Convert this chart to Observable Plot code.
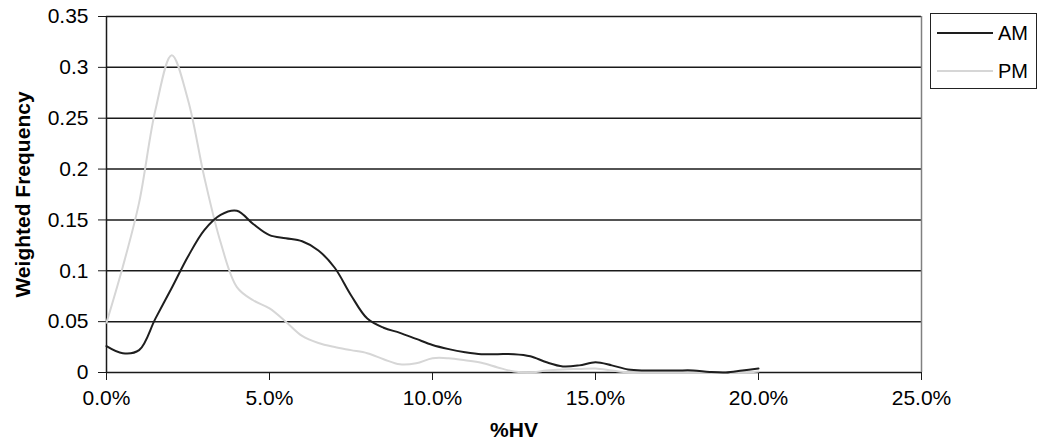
<!DOCTYPE html>
<html>
<head>
<meta charset="utf-8">
<script src="https://cdn.jsdelivr.net/npm/d3@7"></script>
<script src="https://cdn.jsdelivr.net/npm/@observablehq/plot@0.6"></script>
<style>
  html, body { margin: 0; padding: 0; background: #fff; }
  #wrap { position: relative; width: 1042px; height: 442px; font-family: "Liberation Sans", Arial, sans-serif; }
  #legend { position: absolute; left: 930px; top: 13px; width: 105px; height: 74px; border: 1px solid #222; background: #fff; }
  .lg-row { position: absolute; left: 0; width: 105px; height: 22px; }
  .lg-line { position: absolute; left: 6px; top: 10px; width: 56px; height: 2px; }
  .lg-text { position: absolute; left: 67px; top: 0; font-size: 20px; line-height: 22px; color: #000; }
</style>
</head>
<body>
<div id="wrap">
  <div id="chart"></div>
  <div id="legend"></div>
</div>
<script>
// %HV (x) positions
const hvPct = [0,0.5,1,1.5,2,2.5,3,3.5,4,4.5,5,5.5,6,6.5,7,7.5,8,8.5,9,9.5,10,10.5,11,11.5,12,12.5,13,13.5,14,14.5,15,15.5,16,16.5,17,17.5,18,18.5,19,19.5,20];
// Weighted frequency, AM series
const amFreq = [0.026,0.019,0.022,0.053,0.083,0.114,0.140,0.155,0.159,0.146,0.135,0.132,0.129,0.120,0.103,0.076,0.053,0.044,0.039,0.033,0.027,0.023,0.020,0.018,0.018,0.018,0.016,0.010,0.006,0.007,0.010,0.007,0.003,0.002,0.002,0.002,0.002,0.0005,0,0.002,0.004];
// Weighted frequency, PM series
const pmFreq = [0.049,0.104,0.167,0.258,0.312,0.268,0.192,0.128,0.084,0.071,0.063,0.050,0.036,0.029,0.025,0.022,0.019,0.013,0.008,0.009,0.014,0.014,0.012,0.0095,0.005,0.001,0,0.002,0.003,0.0035,0.004,0.002,0,0,0,0,0,0,0,0,0.001];
// Series names and colours
const seriesNames = ["AM", "PM"];
const seriesColors = ["#1e1e1e", "#d6d6d6"];
// Tick values
const xTicks = [0, 5, 10, 15, 20, 25];
const yTicks = [0, 0.05, 0.1, 0.15, 0.2, 0.25, 0.3, 0.35];

const am = hvPct.map((x, i) => ({x, y: amFreq[i]}));
const pm = hvPct.map((x, i) => ({x, y: pmFreq[i]}));

const chart = Plot.plot({
  width: 1042,
  height: 442,
  marginLeft: 106,
  marginRight: 121,
  marginTop: 16,
  marginBottom: 70,
  style: {fontFamily: "'Liberation Sans', Arial, sans-serif", fontSize: "21px", color: "#000", background: "#fff"},
  x: {domain: [0, 25], label: null},
  y: {domain: [0, 0.35], label: null},
  marks: [
    Plot.ruleY(yTicks, {stroke: "#1a1a1a", strokeWidth: 1.5}),
    Plot.ruleX([25], {stroke: "#808080", strokeWidth: 1.5}),
    Plot.ruleX([0], {stroke: "#1a1a1a", strokeWidth: 1.5}),
    Plot.axisX({ticks: xTicks, tickSize: 8, tickPadding: 10, tickFormat: d => d.toFixed(1) + "%", stroke: "#1a1a1a", label: null, fontSize: 21}),
    Plot.axisX({ticks: [], label: "%HV", labelAnchor: "center", labelOffset: 64, labelArrow: "none", fontWeight: "bold", fontSize: 21}),
    Plot.axisY({ticks: yTicks, tickSize: 8, tickPadding: 10, tickFormat: d => String(+d.toFixed(2)), stroke: "#1a1a1a", label: null, fontSize: 21}),
    Plot.axisY({ticks: [], label: "Weighted Frequency", labelAnchor: "center", labelOffset: 91, labelArrow: "none", fontWeight: "bold", fontSize: 21}),
    Plot.line(pm, {x: "x", y: "y", stroke: seriesColors[1], strokeWidth: 2, curve: "catmull-rom"}),
    Plot.line(am, {x: "x", y: "y", stroke: seriesColors[0], strokeWidth: 2, curve: "catmull-rom"})
  ]
});
document.getElementById("chart").appendChild(chart);

const legend = document.getElementById("legend");
seriesNames.forEach((name, i) => {
  const row = document.createElement("div");
  row.className = "lg-row";
  row.style.top = (8 + i * 38) + "px";
  const ln = document.createElement("div");
  ln.className = "lg-line";
  ln.style.background = seriesColors[i];
  const tx = document.createElement("div");
  tx.className = "lg-text";
  tx.textContent = name;
  row.appendChild(ln);
  row.appendChild(tx);
  legend.appendChild(row);
});
</script>
</body>
</html>
